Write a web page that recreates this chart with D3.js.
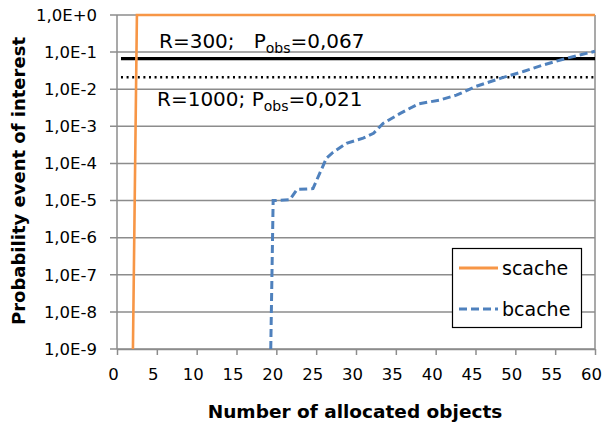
<!DOCTYPE html>
<html>
<head>
<meta charset="utf-8">
<script src="https://cdn.jsdelivr.net/npm/d3@7"></script>
<style>
  body { margin: 0; background: #fff; }
  text { font-family: "DejaVu Sans", sans-serif; fill: #000; }
</style>
</head>
<body>
<svg id="chart" width="603" height="427"></svg>
<script>
// data
const scacheX = [2, 2.5, 60];
const scacheY = [1e-9, 1, 1];

const bcacheX = [19.3, 19.6, 21.7, 22.6, 24.6, 26.3, 27, 28.8, 30.9, 32.2, 33.4, 35.5, 37.8, 40.5, 42.6, 45.1, 48.1, 51, 53.5, 56.4, 60];
const bcacheY = [1e-9, 1e-5, 1.05e-5, 2e-5, 2.1e-5, 1.4e-4, 1.9e-4, 3.5e-4, 4.8e-4, 6.5e-4, 1.2e-3, 2.2e-3, 4e-3, 5.1e-3, 6.9e-3, 1.2e-2, 0.0196, 0.03, 0.045, 0.068, 0.105];

const refValues = [0.067, 0.021];
const refStart = [0.5, 0.5];
const refEnd = [60, 60];

const xTicks = [0, 5, 10, 15, 20, 25, 30, 35, 40, 45, 50, 55, 60];
const yTicks = [1e0, 1e-1, 1e-2, 1e-3, 1e-4, 1e-5, 1e-6, 1e-7, 1e-8, 1e-9];
const yTickLabels = ["1,0E+0", "1,0E-1", "1,0E-2", "1,0E-3", "1,0E-4", "1,0E-5", "1,0E-6", "1,0E-7", "1,0E-8", "1,0E-9"];

const seriesNames = ["scache", "bcache"];

const svg = d3.select("#chart");
const plotLeft = 117, plotRight = 595, plotTop = 15, plotBottom = 349;
const gridColor = "#8c8c8c";

let x = d3.scaleLinear().domain([0, 60]).range([plotLeft, plotRight]);
let y = d3.scaleLog().domain([1e-9, 1]).range([plotBottom, plotTop]);

// grid lines
svg.append("g")
    .selectAll("line")
    .data(yTicks)
    .join("line")
    .attr("x1", plotLeft - 7)
    .attr("x2", plotRight)
    .attr("y1", d => y(d))
    .attr("y2", d => y(d))
    .attr("stroke", gridColor)
    .attr("stroke-width", 1.5);

// right border + left axis
svg.append("line")
    .attr("x1", plotRight).attr("x2", plotRight)
    .attr("y1", plotTop).attr("y2", plotBottom)
    .attr("stroke", gridColor).attr("stroke-width", 1.5);
svg.append("line")
    .attr("x1", plotLeft).attr("x2", plotLeft)
    .attr("y1", plotTop).attr("y2", plotBottom)
    .attr("stroke", gridColor).attr("stroke-width", 1.5);

// x axis
const xAxis = d3.axisBottom(x).tickValues(xTicks).tickSize(6).tickSizeOuter(0).tickPadding(13);
const xg = svg.append("g")
    .attr("transform", `translate(0,${plotBottom})`)
    .call(xAxis);
xg.select(".domain").attr("stroke", gridColor).attr("stroke-width", 1.5);
xg.selectAll(".tick line").attr("stroke", gridColor).attr("stroke-width", 1.5);
xg.selectAll(".tick text")
    .attr("font-size", 16.5)
    .attr("font-family", "DejaVu Sans")
    .attr("dx", -4);

// y tick labels
svg.append("g")
    .selectAll("text")
    .data(yTicks)
    .join("text")
    .attr("x", 97)
    .attr("y", d => y(d))
    .attr("dy", "0.35em")
    .attr("text-anchor", "end")
    .attr("font-size", 16.5)
    .text((d, i) => yTickLabels[i]);

// reference lines
const refStyles = [
    { width: 3.2, dash: null },
    { width: 2.4, dash: "2,3.6" }
];
refValues.forEach(function(v, i) {
    svg.append("line")
        .attr("x1", x(refStart[i]))
        .attr("x2", x(refEnd[i]))
        .attr("y1", y(v))
        .attr("y2", y(v))
        .attr("stroke", "#000")
        .attr("stroke-width", refStyles[i].width)
        .attr("stroke-dasharray", refStyles[i].dash);
});

// series
const line = d3.line()
    .x(d => x(d[0]))
    .y(d => y(d[1]));

svg.append("path")
    .datum(bcacheX.map((v, i) => [v, bcacheY[i]]))
    .attr("d", line)
    .attr("fill", "none")
    .attr("stroke", "#4f81bd")
    .attr("stroke-width", 3)
    .attr("stroke-dasharray", "8,4");

svg.append("path")
    .datum(scacheX.map((v, i) => [v, scacheY[i]]))
    .attr("d", line)
    .attr("fill", "none")
    .attr("stroke", "#f79646")
    .attr("stroke-width", 2.6);

// annotations
const ann1 = svg.append("text").attr("x", 159).attr("y", 48).attr("font-size", 20);
ann1.append("tspan").text("R=300;\u00a0\u00a0 P");
ann1.append("tspan").attr("font-size", 14).attr("dy", 5).text("obs");
ann1.append("tspan").attr("dy", -5).text("=0,067");

const ann2 = svg.append("text").attr("x", 157).attr("y", 106).attr("font-size", 20);
ann2.append("tspan").text("R=1000; P");
ann2.append("tspan").attr("font-size", 14).attr("dy", 5).text("obs");
ann2.append("tspan").attr("dy", -5).text("=0,021");

// legend
const legend = svg.append("g");
legend.append("rect")
    .attr("x", 452.5).attr("y", 248.5)
    .attr("width", 129).attr("height", 79)
    .attr("fill", "#fff")
    .attr("stroke", "#000")
    .attr("stroke-width", 1.2);
const legendColors = ["#f79646", "#4f81bd"];
const legendDash = [null, "8,4"];
seriesNames.forEach(function(name, i) {
    let ly = 268 + i * 41;
    legend.append("line")
        .attr("x1", 459).attr("x2", 498)
        .attr("y1", ly).attr("y2", ly)
        .attr("stroke", legendColors[i])
        .attr("stroke-width", 3)
        .attr("stroke-dasharray", legendDash[i]);
    legend.append("text")
        .attr("x", 502).attr("y", ly)
        .attr("dy", "0.35em")
        .attr("font-size", 19)
        .text(name);
});

// axis titles
svg.append("text")
    .attr("x", (plotLeft + plotRight) / 2 - 1)
    .attr("y", 418)
    .attr("text-anchor", "middle")
    .attr("font-size", 18.5)
    .attr("font-weight", "bold")
    .text("Number of allocated objects");

svg.append("text")
    .attr("transform", "translate(25,181) rotate(-90)")
    .attr("text-anchor", "middle")
    .attr("font-size", 18)
    .attr("font-weight", "bold")
    .text("Probability event of interest");
</script>
</body>
</html>
